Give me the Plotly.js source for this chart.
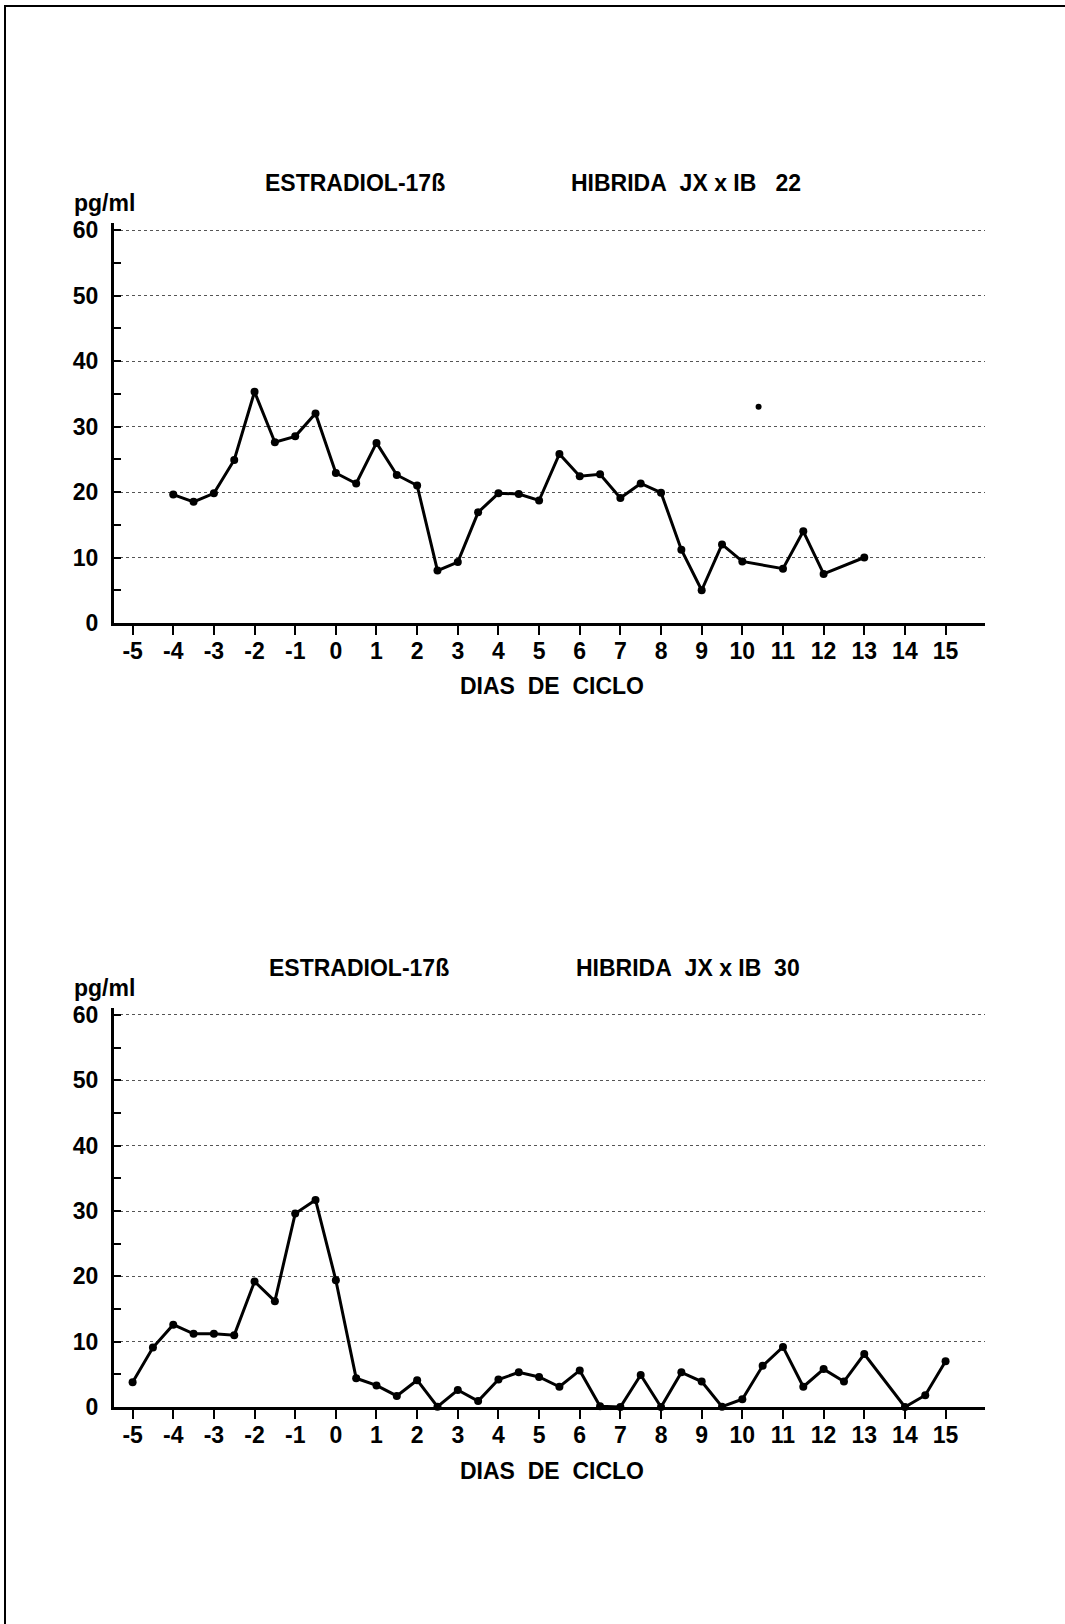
<!DOCTYPE html>
<html>
<head>
<meta charset="utf-8">
<script src="https://cdn.plot.ly/plotly-3.0.1.min.js"></script>
<style>
  html, body { margin: 0; padding: 0; background: #fff; }
  #chart { width: 1065px; height: 1624px; }
</style>
</head>
<body>
<div id="chart"></div>
<script>
// ---------- data ----------
const topDays = [-4, -3.5, -3, -2.5, -2, -1.5, -1, -0.5, 0, 0.5, 1, 1.5, 2, 2.5, 3, 3.5, 4, 4.5, 5, 5.5, 6, 6.5, 7, 7.5, 8, 8.5, 9, 9.5, 10, 11, 11.5, 12, 13];
const topValues = [19.6, 18.5, 19.8, 24.9, 35.3, 27.6, 28.5, 32.0, 22.9, 21.3, 27.5, 22.6, 21.0, 8.0, 9.3, 16.9, 19.8, 19.7, 18.7, 25.8, 22.4, 22.7, 19.1, 21.3, 19.9, 11.2, 5.0, 12.0, 9.4, 8.3, 14.0, 7.5, 10.0];
const topStrayDays = [10.4];
const topStrayValues = [33.0];

const bottomDays = [-5, -4.5, -4, -3.5, -3, -2.5, -2, -1.5, -1, -0.5, 0, 0.5, 1, 1.5, 2, 2.5, 3, 3.5, 4, 4.5, 5, 5.5, 6, 6.5, 7, 7.5, 8, 8.5, 9, 9.5, 10, 10.5, 11, 11.5, 12, 12.5, 13, 14, 14.5, 15];
const bottomValues = [3.8, 9.1, 12.6, 11.2, 11.2, 11.0, 19.2, 16.2, 29.6, 31.7, 19.4, 4.4, 3.3, 1.7, 4.1, 0.05, 2.6, 0.9, 4.2, 5.3, 4.6, 3.1, 5.6, 0.1, 0, 4.9, 0, 5.3, 3.9, 0.05, 1.2, 6.3, 9.2, 3.1, 5.8, 3.9, 8.1, 0, 1.8, 7.0];

const xTickValues = [-5, -4, -3, -2, -1, 0, 1, 2, 3, 4, 5, 6, 7, 8, 9, 10, 11, 12, 13, 14, 15];
const xTickLabels = ['-5', '-4', '-3', '-2', '-1', '0', '1', '2', '3', '4', '5', '6', '7', '8', '9', '10', '11', '12', '13', '14', '15'];
const yTickValues = [0, 10, 20, 30, 40, 50, 60];
const yTickLabels = ['0', '10', '20', '30', '40', '50', '60'];
const yMinorTickValues = [5, 15, 25, 35, 45, 55];

const hormoneLabel = 'ESTRADIOL-17ß';
const topAnimalLabel = 'HIBRIDA\u00a0\u00a0JX\u00a0x\u00a0IB\u00a0\u00a0\u00a022';
const bottomAnimalLabel = 'HIBRIDA\u00a0\u00a0JX\u00a0x\u00a0IB\u00a0\u00a030';
const unitLabel = 'pg/ml';
const xLabel = 'DIAS\u00a0\u00a0DE\u00a0\u00a0CICLO';

// ---------- layout helpers ----------
const W = 1065, H = 1624;
const fx = x => x / W;
const fy = y => (H - y) / H;
const FONT = 'Liberation Sans, Arial, Helvetica, sans-serif';
const textFont = (size) => ({ family: FONT, size: size, color: '#000', weight: 'bold' });

function xAxis(anchor) {
  return {
    anchor: anchor,
    domain: [fx(113.5), fx(985)],
    range: [-5.47, 15.97],
    tickmode: 'array', tickvals: xTickValues, ticktext: xTickLabels,
    ticks: 'outside', ticklen: 9, tickwidth: 2, tickcolor: '#000',
    ticklabelstandoff: -4,
    showline: true, linewidth: 3, linecolor: '#000',
    showgrid: false, zeroline: false, fixedrange: true,
    tickfont: textFont(23)
  };
}
function yAxis(anchor, top, bottom) {
  return {
    anchor: anchor,
    domain: [fy(bottom), fy(top)],
    range: [0, 61.07],
    tickmode: 'array', tickvals: yTickValues, ticktext: yTickLabels,
    ticks: 'inside', ticklen: 7, tickwidth: 2, tickcolor: '#000',
    ticklabelstandoff: 8,
    minor: { tickmode: 'array', tickvals: yMinorTickValues, ticks: 'inside', ticklen: 7, tickwidth: 2, tickcolor: '#000', showgrid: false },
    showline: true, linewidth: 2.5, linecolor: '#000',
    showgrid: true, gridcolor: '#555', gridwidth: 1, griddash: 'dot',
    zeroline: false, fixedrange: true,
    tickfont: textFont(23)
  };
}

const lineStyle = { color: '#000', width: 3 };
const markerStyle = { color: '#000', size: 8 };

const traces = [
  { x: topDays, y: topValues, xaxis: 'x', yaxis: 'y', mode: 'lines+markers', line: lineStyle, marker: markerStyle, cliponaxis: false, showlegend: false },
  { x: topStrayDays, y: topStrayValues, xaxis: 'x', yaxis: 'y', mode: 'markers', marker: { color: '#000', size: 6 }, showlegend: false },
  { x: bottomDays, y: bottomValues, xaxis: 'x2', yaxis: 'y2', mode: 'lines+markers', line: lineStyle, marker: markerStyle, cliponaxis: false, showlegend: false }
];

function txt(text, x, y, anchor) {
  return { text: text, xref: 'paper', yref: 'paper', x: fx(x), y: fy(y), xanchor: anchor || 'left', yanchor: 'middle', showarrow: false, font: textFont(23) };
}

const layout = {
  width: W, height: H,
  margin: { l: 0, r: 0, t: 0, b: 0 },
  paper_bgcolor: '#fff', plot_bgcolor: '#fff',
  showlegend: false,
  xaxis: xAxis('y'),
  yaxis: yAxis('x', 223, 623),
  xaxis2: xAxis('y2'),
  yaxis2: yAxis('x2', 1008, 1407),
  annotations: [
    txt(hormoneLabel, 263, 183),
    txt(topAnimalLabel, 569, 183),
    txt(unitLabel, 72, 203),
    txt(xLabel, 552, 686, 'center'),
    txt(hormoneLabel, 267, 968),
    txt(bottomAnimalLabel, 574, 968),
    txt(unitLabel, 72, 988),
    txt(xLabel, 552, 1471, 'center')
  ],
  shapes: [
    { type: 'line', xref: 'paper', yref: 'paper', x0: fx(4), x1: fx(1065), y0: fy(6), y1: fy(6), line: { color: '#000', width: 2 } },
    { type: 'line', xref: 'paper', yref: 'paper', x0: fx(5), x1: fx(5), y0: fy(6), y1: fy(1624), line: { color: '#000', width: 2 } }
  ]
};

Plotly.newPlot('chart', traces, layout, { staticPlot: true, displayModeBar: false });
</script>
</body>
</html>
